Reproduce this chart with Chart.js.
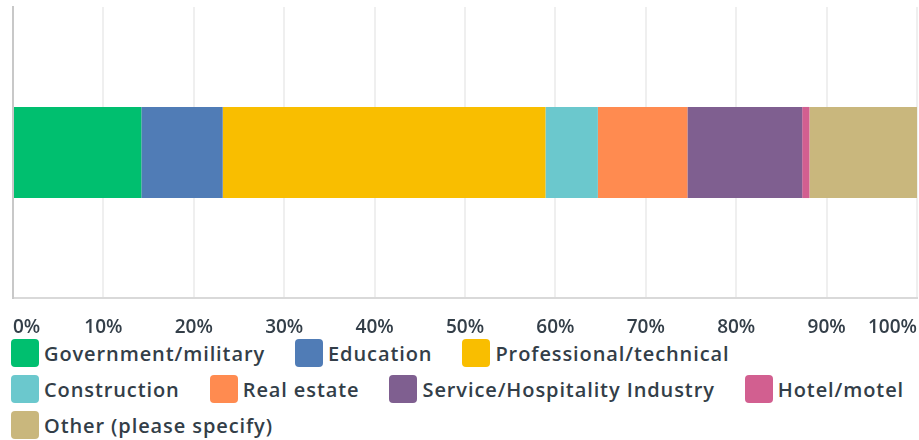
<!DOCTYPE html>
<html>
<head>
<meta charset="utf-8">
<script src="https://cdn.jsdelivr.net/npm/chart.js@4"></script>
<style>
  html, body { margin: 0; padding: 0; background: #fff; }
  #wrap { position: relative; width: 919px; height: 339px; }
  #legend {
    display: flex; flex-wrap: wrap; row-gap: 8px; column-gap: 30px;
    padding-left: 11px; width: 906px;
    font-family: "Open Sans", sans-serif; font-weight: 600; font-size: 20px;
    letter-spacing: 0.9px; color: #333e48;
  }
  .item { display: flex; align-items: center; height: 28px; white-space: nowrap; }
  .box { width: 28px; height: 28px; border-radius: 4px; margin-right: 5px; }
</style>
</head>
<body>
<div id="wrap"><canvas id="chart"></canvas></div>
<div id="legend"></div>
<script>
// 데이터
const categories = ['Industry'];
const seriesNames = ['Government/military', 'Education', 'Professional/technical', 'Construction',
                     'Real estate', 'Service/Hospitality Industry', 'Hotel/motel', 'Other (please specify)'];
const seriesValues = [14.2, 9.0, 35.7, 5.8, 9.9, 12.7, 0.8, 11.9];
const seriesColors = ['#00bf6f', '#507cb6', '#f9be00', '#6bc8cd', '#ff8b50', '#7f5f90', '#d25f90', '#c9b77d'];
const tickValues = [0, 10, 20, 30, 40, 50, 60, 70, 80, 90, 100];

const ctx = document.getElementById('chart').getContext('2d');
const chart = new Chart(ctx, {
    type: 'bar',
    data: {
        labels: categories,
        datasets: seriesNames.map(function(name, i) {
            return {
                label: name,
                data: [seriesValues[i]],
                backgroundColor: seriesColors[i],
                borderWidth: 0,
                categoryPercentage: 1,
                barPercentage: 0.313
            };
        })
    },
    options: {
        indexAxis: 'y',
        responsive: true,
        maintainAspectRatio: false,
        animation: false,
        layout: { padding: { left: 13, right: 2, top: 7, bottom: 0 } },
        plugins: {
            legend: { display: false },
            tooltip: { enabled: false }
        },
        scales: {
            x: {
                stacked: true,
                min: 0,
                max: 100,
                afterBuildTicks: function(axis) {
                    axis.ticks = tickValues.map(function(v) { return { value: v }; });
                },
                afterFit: function(axis) {
                    // 라벨이 안쪽 정렬이라 좌우 여백 불필요
                    axis.paddingLeft = 0;
                    axis.paddingRight = 0;
                    axis.height = 41;
                },
                grid: { color: '#efefef', lineWidth: 2, drawTicks: false },
                border: { color: '#d9d9d9', width: 2 },
                ticks: {
                    align: 'inner',
                    padding: 18,
                    maxRotation: 0,
                    autoSkip: false,
                    color: '#333e48',
                    font: { family: 'Open Sans', size: 19, weight: '600' },
                    callback: function(value) { return value + '%'; }
                }
            },
            y: {
                stacked: true,
                afterFit: function(axis) { axis.width = 0; },
                grid: { display: false },
                border: { color: '#c8c8c8', width: 2 },
                ticks: { display: false }
            }
        }
    }
});

// HTML 범례
const legendEl = document.getElementById('legend');
chart.data.datasets.forEach(function(ds) {
    const item = document.createElement('div');
    item.className = 'item';
    const box = document.createElement('span');
    box.className = 'box';
    box.style.background = ds.backgroundColor;
    const txt = document.createElement('span');
    txt.textContent = ds.label;
    item.appendChild(box);
    item.appendChild(txt);
    legendEl.appendChild(item);
});
</script>
</body>
</html>
